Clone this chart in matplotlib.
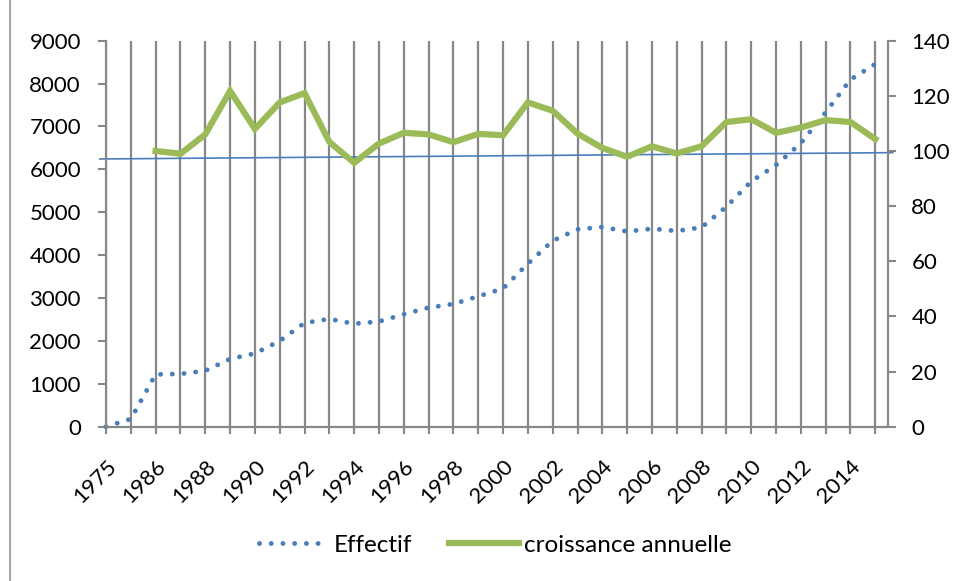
import numpy as np
import matplotlib
matplotlib.use("Agg")
import matplotlib.pyplot as plt
from matplotlib.lines import Line2D

plt.rcParams['font.family'] = ['Lato', 'DejaVu Sans']

# ---- data ----
years = [1975, 1985] + list(range(1986, 2016))
effectif = [0, 180, 1220, 1230, 1305, 1580, 1708, 2000, 2420, 2512, 2400, 2452,
            2622, 2776, 2862, 3040, 3222, 3800, 4335, 4602, 4655, 4552, 4615,
            4564, 4647, 5130, 5720, 6100, 6610, 7330, 8095, 8456]
croissance = [np.nan, np.nan, 100, 99, 106, 121.8, 108, 117.6, 121, 103.3, 95.7,
              102.7, 106.6, 106, 103.2, 106.2, 105.7, 117.6, 114.6, 106.3, 101.1,
              97.9, 101.7, 99.1, 101.7, 110.5, 111.5, 106.6, 108.5, 111.2, 110.5,
              104.3]
trend_values = [97.1, 99.4]
left_ticks = list(range(0, 9001, 1000))
right_ticks = list(range(0, 141, 20))
tick_labels = [str(y) if i % 2 == 0 else '' for i, y in enumerate(years)]

BLUE = '#4a7ebb'
GREEN = '#9bbb59'
GRAY = '#878787'
FS = 16

W, H = 956, 581
fig = plt.figure(figsize=(W / 100, H / 100), dpi=100)
L, R, T, B = 106, 887.7, 40.7, 426.7
ax = fig.add_axes([L / W, 1 - B / H, (R - L) / W, (B - T) / H])
ax2 = ax.twinx()

x = np.arange(len(years))
n = len(years)

DOT = (0, (0.01, 2.4))
ax.plot(x, effectif, color=BLUE, lw=3.5, linestyle=DOT,
        dash_capstyle='round', label='Effectif', zorder=3, clip_on=False)
ax2.plot(x, croissance, color=GREEN, lw=4.5, solid_joinstyle='miter',
         label='croissance annuelle', zorder=3)
ax2.plot([-0.25, n - 1 + 0.7], trend_values, color=BLUE, lw=1.2,
         clip_on=False, zorder=2)

ax.set_xlim(0, n - 0.5)
ax.set_ylim(0, 9000)
ax2.set_ylim(0, 140)
ax.set_yticks(left_ticks)
ax2.set_yticks(right_ticks)
ax.set_xticks(x)
ax.set_xticklabels(tick_labels, rotation=45, ha='right', rotation_mode='anchor')

ax.grid(axis='x', color=GRAY, lw=1.6)
ax.grid(axis='y', visible=False)
ax.set_axisbelow(True)

for a in (ax, ax2):
    a.spines['top'].set_visible(False)
    for s in ('left', 'right', 'bottom'):
        a.spines[s].set_color(GRAY)
        a.spines[s].set_linewidth(1.5)
    a.patch.set_visible(False)

ax.tick_params(axis='y', direction='out', length=6, width=1.5, color=GRAY,
               labelsize=FS, pad=12)
ax2.tick_params(axis='y', direction='out', length=6, width=1.5, color=GRAY,
                labelsize=FS, pad=11)
ax.tick_params(axis='x', direction='out', length=5, width=1.5, color=GRAY,
               labelsize=FS, pad=16)

handles = [Line2D([], [], color=BLUE, lw=3.5, linestyle=DOT,
                  dash_capstyle='round'),
           Line2D([], [], color=GREEN, lw=4.5)]
fig.legend(handles, ['Effectif', 'croissance annuelle'], loc='center',
           bbox_to_anchor=(0.518, 1 - 545 / H), ncol=2, frameon=False,
           fontsize=17.5, handlelength=2.9, handletextpad=0.2, columnspacing=1.5)

fig.add_artist(Line2D([10 / W, 10 / W], [0, 1], color='#a6a6a6', lw=1.5))

fig.savefig('out.png', dpi=100)
